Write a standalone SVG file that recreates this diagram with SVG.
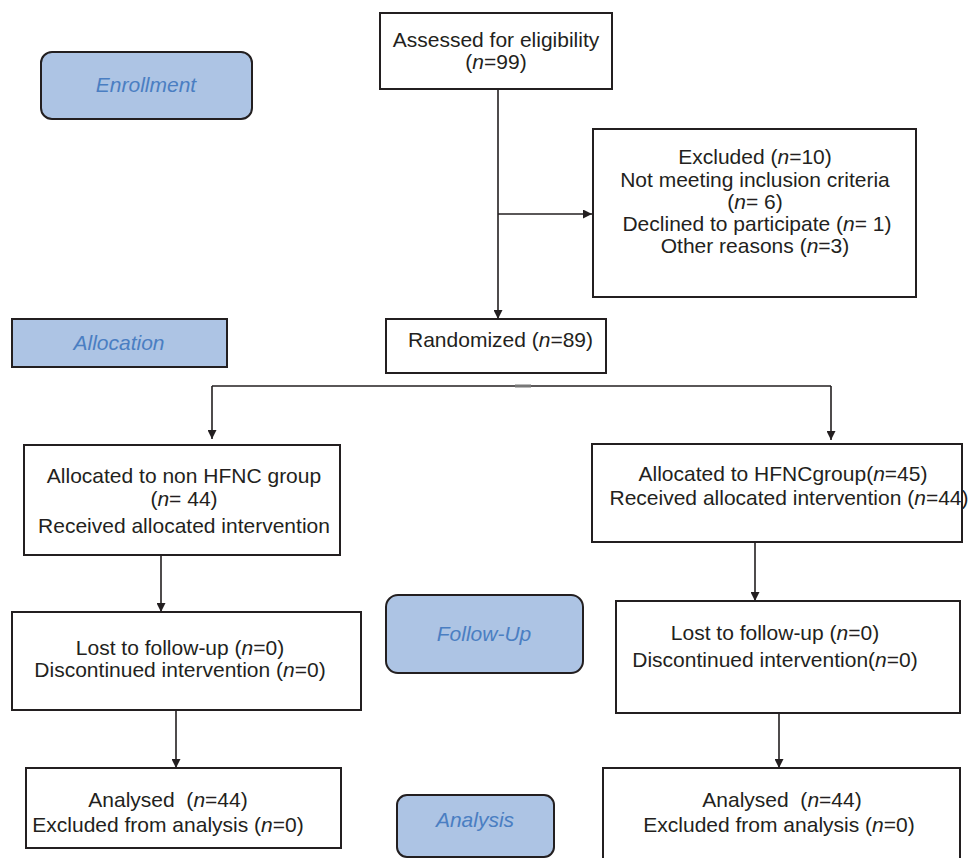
<svg xmlns="http://www.w3.org/2000/svg" width="969" height="858" viewBox="0 0 969 858">
<defs>
<style>
.box{fill:#fff;stroke:#231f20;stroke-width:2}
.stage{fill:#adc4e4;stroke:#231f20;stroke-width:2}
.t{font-family:"Liberation Sans",Arial,sans-serif;font-size:21px;fill:#231f20;text-anchor:middle}
.s{font-family:"Liberation Sans",Arial,sans-serif;font-size:21px;fill:#4a7ec2;font-style:italic;text-anchor:middle}
.i{font-style:italic}
.c{fill:none;stroke:#231f20;stroke-width:1.6}
</style>
<marker id="ah" viewBox="0 0 10 10" refX="10" refY="5" markerWidth="9" markerHeight="9" markerUnits="userSpaceOnUse" orient="auto">
<path d="M0,0 L10,5 L0,10 z" fill="#231f20"/>
</marker>
</defs>
<rect width="969" height="858" fill="#fff"/>

<g id="enrollment">
<rect class="stage" x="41" y="52" width="211" height="67" rx="11"/>
<text class="s" x="146" y="92">Enrollment</text>
</g>
<g id="allocation">
<rect class="stage" x="12" y="319" width="215" height="48"/>
<text class="s" x="119" y="350">Allocation</text>
</g>
<g id="followup-label">
<rect class="stage" x="386" y="595" width="197" height="78" rx="12"/>
<text class="s" x="484" y="641">Follow-Up</text>
</g>
<g id="analysis-label">
<rect class="stage" x="397" y="795" width="157" height="62" rx="10"/>
<text class="s" x="475" y="827">Analysis</text>
</g>

<g id="assessed">
<rect class="box" x="380" y="13" width="232" height="76"/>
<text class="t" x="496" y="47">Assessed for eligibility</text>
<text class="t" x="496" y="69">(<tspan class="i">n</tspan>=99)</text>
</g>
<g id="excluded">
<rect class="box" x="593" y="129" width="323" height="168"/>
<text class="t" x="755" y="164">Excluded (<tspan class="i">n</tspan>=10)</text>
<text class="t" x="755" y="187">Not meeting inclusion criteria</text>
<text class="t" x="755" y="209">(<tspan class="i">n</tspan>= 6)</text>
<text class="t" x="757" y="231">Declined to participate (<tspan class="i">n</tspan>= 1)</text>
<text class="t" x="755" y="253">Other reasons (<tspan class="i">n</tspan>=3)</text>
</g>
<g id="randomized">
<rect class="box" x="386" y="319" width="220" height="54"/>
<text class="t" x="408" y="347" style="text-anchor:start">Randomized (<tspan class="i">n</tspan>=89)</text>
</g>
<g id="alloc-nonhfnc">
<rect class="box" x="24" y="445" width="316" height="110"/>
<text class="t" x="184" y="483">Allocated to non HFNC group</text>
<text class="t" x="184" y="506">(<tspan class="i">n</tspan>= 44)</text>
<text class="t" x="184" y="533">Received allocated intervention</text>
</g>
<g id="alloc-hfnc">
<rect class="box" x="592" y="444" width="370" height="98"/>
<text class="t" x="783" y="481">Allocated to HFNCgroup(<tspan class="i">n</tspan>=45)</text>
<text class="t" x="789" y="505">Received allocated intervention (<tspan class="i">n</tspan>=44)</text>
</g>
<g id="followup-left">
<rect class="box" x="12" y="612" width="349" height="98"/>
<text class="t" x="180" y="655">Lost to follow-up (<tspan class="i">n</tspan>=0)</text>
<text class="t" x="180" y="677">Discontinued intervention (<tspan class="i">n</tspan>=0)</text>
</g>
<g id="followup-right">
<rect class="box" x="616" y="601" width="344" height="112"/>
<text class="t" x="775" y="640">Lost to follow-up (<tspan class="i">n</tspan>=0)</text>
<text class="t" x="775" y="667">Discontinued intervention(<tspan class="i">n</tspan>=0)</text>
</g>
<g id="analysed-left">
<rect class="box" x="26" y="768" width="315" height="80"/>
<text class="t" x="168" y="807" xml:space="preserve">Analysed  (<tspan class="i">n</tspan>=44)</text>
<text class="t" x="168" y="832">Excluded from analysis (<tspan class="i">n</tspan>=0)</text>
</g>
<g id="analysed-right">
<rect class="box" x="603" y="768" width="357" height="100"/>
<text class="t" x="782" y="807" xml:space="preserve">Analysed  (<tspan class="i">n</tspan>=44)</text>
<text class="t" x="779" y="832">Excluded from analysis (<tspan class="i">n</tspan>=0)</text>
</g>

<g id="connectors">
<path class="c" d="M498,89 V319" marker-end="url(#ah)"/>
<path class="c" d="M498,214 H592" marker-end="url(#ah)"/>
<path class="c" d="M212,386 H831"/>
<path class="c" d="M212,386 V439" marker-end="url(#ah)"/>
<path class="c" d="M831,386 V440" marker-end="url(#ah)"/>
<line x1="515" y1="386" x2="531" y2="386" stroke="#777" stroke-width="3"/>
<path class="c" d="M161,555 V612" marker-end="url(#ah)"/>
<path class="c" d="M755,542 V601" marker-end="url(#ah)"/>
<path class="c" d="M176,710 V768" marker-end="url(#ah)"/>
<path class="c" d="M779,713 V768" marker-end="url(#ah)"/>
</g>
</svg>
